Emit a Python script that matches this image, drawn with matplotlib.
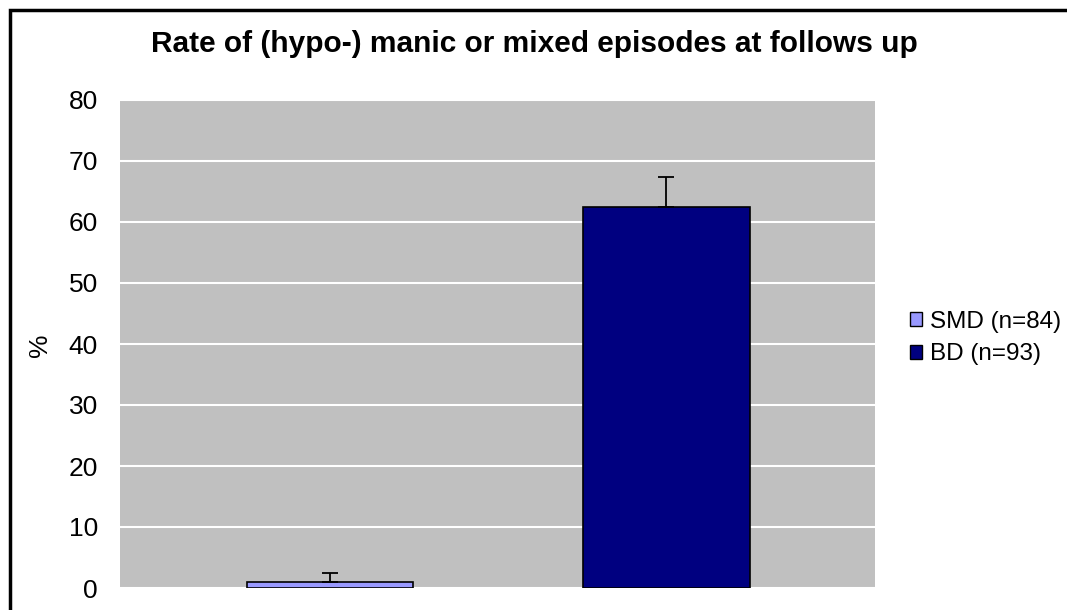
import matplotlib
matplotlib.use("Agg")
from matplotlib import pyplot as plt
from matplotlib.patches import Rectangle, Patch

groups = ["SMD (n=84)", "BD (n=93)"]
rates = [1.0, 62.5]
errors = [1.4, 4.9]
colors = ["#9999FF", "#000080"]
y_ticks = [0, 10, 20, 30, 40, 50, 60, 70, 80]
title = "Rate of (hypo-) manic or mixed episodes at follows up"

plt.rcParams["font.family"] = ["Liberation Sans", "DejaVu Sans"]

fig = plt.figure(figsize=(10.67, 6.1), dpi=100)
# axes box in pixels: left 120, right 875, top 100, bottom 588
ax = fig.add_axes([120 / 1067, (610 - 588) / 610, 755 / 1067, 488 / 610])
ax.set_facecolor("#C0C0C0")

x = range(len(groups))
ax.bar(x, rates, width=0.497, color=colors, edgecolor="black", linewidth=1.2, zorder=3)
ax.errorbar(x, rates, yerr=[[0, 0], errors], fmt="none", ecolor="black",
            elinewidth=1.3, capsize=6, capthick=1.3, zorder=4)

ax.set_xlim(-0.625, 1.622)
ax.set_ylim(0, 80)
ax.set_yticks(y_ticks)
ax.set_yticklabels([str(t) for t in y_ticks], fontsize=19)
ax.set_xticks([])
ax.tick_params(axis="y", length=0, pad=16)
ax.yaxis.grid(True, color="white", linewidth=1.5, zorder=1)
ax.set_axisbelow(True)
for s in ax.spines.values():
    s.set_visible(False)

fig.text(40 / 1067, 1 - 345 / 610, "%", fontsize=19, rotation=90, ha="center", va="center")
fig.text(534 / 1067, 1 - 44 / 610, title, fontsize=21.5, fontweight="bold",
         ha="center", va="center")

handles = [Patch(facecolor=c, edgecolor="black", linewidth=1) for c in colors]
fig.legend(handles, groups, loc="center left", bbox_to_anchor=(900 / 1067, 1 - 338 / 610),
           frameon=False, fontsize=17.5, handlelength=0.5, handleheight=0.5,
           handletextpad=0.35, labelspacing=0.45, borderaxespad=0)

# figure frame, cropped at right and bottom like the original
fig.patches.append(Rectangle((10 / 1067, -0.1), 1.2, 1 - 10 / 610 + 0.1,
                             transform=fig.transFigure, fill=False,
                             edgecolor="black", linewidth=2.5))

fig.savefig("out.png", dpi=100)
